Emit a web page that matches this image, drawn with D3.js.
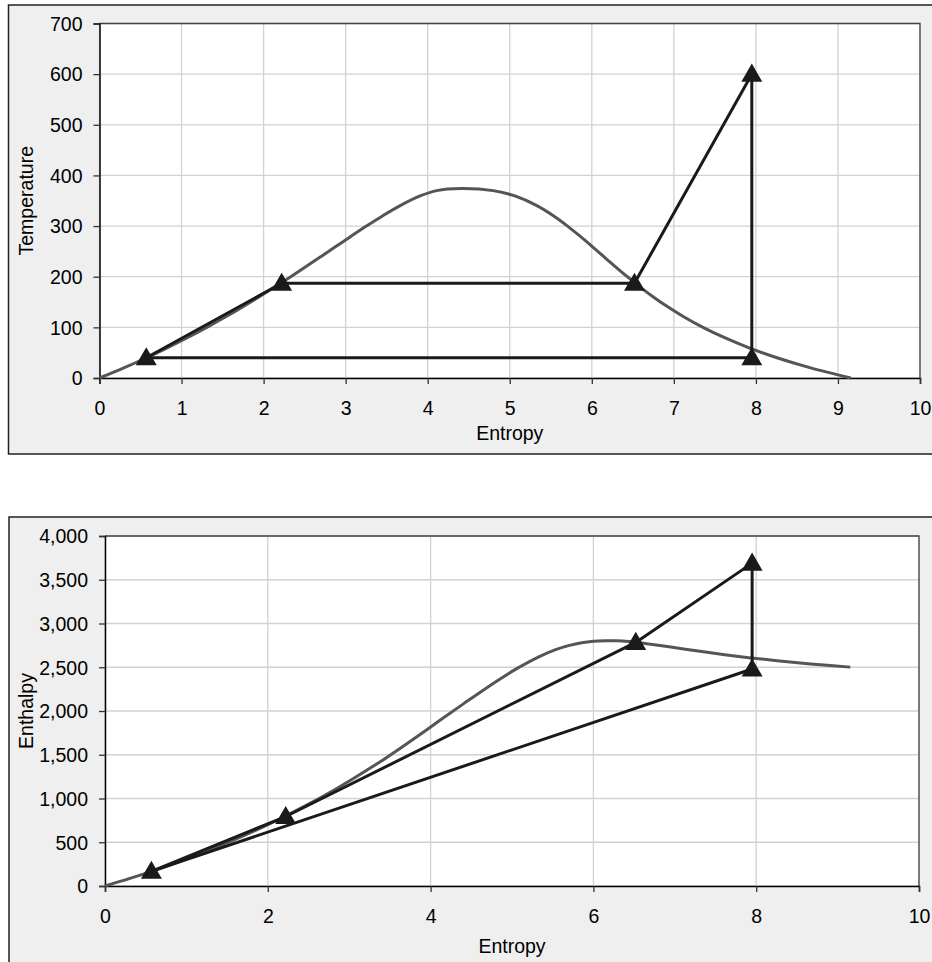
<!DOCTYPE html>
<html>
<head>
<meta charset="utf-8">
<script src="https://cdn.jsdelivr.net/npm/d3@7"></script>
<style>
  html, body { margin: 0; padding: 0; background: #ffffff; }
  svg { display: block; }
  text { font-family: "Liberation Sans", Arial, sans-serif; fill: #000; }
</style>
</head>
<body>
<svg id="chart" width="932" height="962"></svg>
<script>
// ---- Data ----
// Saturation dome (water): entropy, temperature, enthalpy
const domeS = [0, 0.2966, 0.5725, 0.8312, 1.0753, 1.3069, 1.5276, 1.7391, 1.9427, 2.1396, 2.3309, 2.5178, 2.7015, 2.8838, 3.0668, 3.2534, 3.4480, 3.6594, 3.9147, 4.1106, 4.407,
               4.7971, 5.0526, 5.3357, 5.5362, 5.7045, 5.8571, 6.0019, 6.1437, 6.2861, 6.4323, 6.5857, 6.7502, 6.9299, 7.1296, 7.3549, 7.6122, 7.9096, 8.2570, 8.6672, 9.1562];
const domeT = [0, 20, 40, 60, 80, 100, 120, 140, 160, 180, 200, 220, 240, 260, 280, 300, 320, 340, 360, 370, 374,
               370, 360, 340, 320, 300, 280, 260, 240, 220, 200, 180, 160, 140, 120, 100, 80, 60, 40, 20, 0];
const domeH = [0, 83.9, 167.5, 251.2, 335.0, 419.2, 503.8, 589.2, 675.5, 763.1, 852.3, 943.6, 1037.6, 1135.0, 1236.8, 1344.8, 1461.3, 1594.5, 1760.5, 1890.7, 2084.3,
               2332.0, 2481.0, 2621.9, 2700.6, 2749.6, 2780.4, 2796.9, 2803.0, 2801.6, 2793.2, 2778.2, 2758.1, 2733.9, 2706.3, 2676.1, 2643.7, 2609.6, 2574.3, 2538.1, 2501.4];

// Cycle states (last repeats first to close the loop)
const cycleS = [0.57, 2.22, 6.52, 7.95, 7.95, 0.57];
const cycleT = [40, 187, 187, 600, 40, 40];
const cycleH = [168, 794, 2784, 3690, 2480, 168];

// Axis ticks
const tsXTicks = [0, 1, 2, 3, 4, 5, 6, 7, 8, 9, 10];
const tsYTicks = [0, 100, 200, 300, 400, 500, 600, 700];
const hsXTicks = [0, 2, 4, 6, 8, 10];
const hsYTicks = [0, 500, 1000, 1500, 2000, 2500, 3000, 3500, 4000];

const xLabel = "Entropy";
const tsYLabel = "Temperature";
const hsYLabel = "Enthalpy";

// ---- Drawing ----
const svg = d3.select("#chart");
const FONT = 19.5;

function drawChart(cfg) {
  const g = svg.append("g");
  // outer box
  g.append("rect")
    .attr("x", cfg.box[0]).attr("y", cfg.box[1])
    .attr("width", cfg.box[2]).attr("height", cfg.box[3])
    .attr("fill", "#efefef").attr("stroke", "#222").attr("stroke-width", 1.5);

  const x = d3.scaleLinear().domain([0, 10]).range([cfg.plot.left, cfg.plot.right]);
  const y = d3.scaleLinear().domain([0, cfg.yMax]).range([cfg.plot.bottom, cfg.plot.top]);

  // plot area
  g.append("rect")
    .attr("x", cfg.plot.left).attr("y", cfg.plot.top)
    .attr("width", cfg.plot.right - cfg.plot.left)
    .attr("height", cfg.plot.bottom - cfg.plot.top)
    .attr("fill", "#ffffff");

  // gridlines
  g.append("g").selectAll("line").data(cfg.xTicks).join("line")
    .attr("x1", d => x(d)).attr("x2", d => x(d))
    .attr("y1", cfg.plot.top).attr("y2", cfg.plot.bottom)
    .attr("stroke", "#d2d2d2").attr("stroke-width", 1.3);
  g.append("g").selectAll("line").data(cfg.yTicks).join("line")
    .attr("x1", cfg.plot.left).attr("x2", cfg.plot.right)
    .attr("y1", d => y(d)).attr("y2", d => y(d))
    .attr("stroke", "#d2d2d2").attr("stroke-width", 1.3);

  // plot border (top/right)
  g.append("path")
    .attr("d", `M${cfg.plot.left},${cfg.plot.top}H${cfg.plot.right}V${cfg.plot.bottom}`)
    .attr("fill", "none").attr("stroke", "#444").attr("stroke-width", 1.3);

  // axes
  const xAxis = d3.axisBottom(x).tickValues(cfg.xTicks).tickSize(6).tickPadding(17)
    .tickFormat(d3.format("d"));
  const yAxis = d3.axisLeft(y).tickValues(cfg.yTicks).tickSize(6).tickPadding(11)
    .tickFormat(d3.format(","));
  const gx = g.append("g").attr("transform", `translate(0,${cfg.plot.bottom})`).call(xAxis);
  const gy = g.append("g").attr("transform", `translate(${cfg.plot.left},0)`).call(yAxis);
  [gx, gy].forEach(a => {
    a.select(".domain").attr("stroke", "#000").attr("stroke-width", 1.5);
    a.selectAll(".tick line").attr("stroke", "#333").attr("stroke-width", 1.3);
    a.selectAll(".tick text").attr("font-size", FONT)
      .attr("font-family", "Liberation Sans, Arial, sans-serif").attr("fill", "#000");
  });
  gy.selectAll(".tick text").attr("dy", "0.35em");

  // axis titles
  g.append("text")
    .attr("x", (cfg.plot.left + cfg.plot.right) / 2).attr("y", cfg.xTitleY)
    .attr("text-anchor", "middle").attr("font-size", FONT).text(xLabel);
  g.append("text")
    .attr("transform", `translate(${cfg.yTitleX},${(cfg.plot.top + cfg.plot.bottom) / 2}) rotate(-90)`)
    .attr("text-anchor", "middle").attr("dy", "0.35em").attr("font-size", FONT).text(cfg.yLabel);

  // dome
  const domePts = domeS.map((s, i) => [s, cfg.domeY[i]]);
  const line = d3.line().x(d => x(d[0])).y(d => y(d[1]));
  g.append("path")
    .attr("d", line.curve(d3.curveCatmullRom.alpha(0.5))(domePts))
    .attr("fill", "none").attr("stroke", "#555555").attr("stroke-width", 3);

  // cycle
  const cyc = cycleS.map((s, i) => [s, cfg.cycleY[i]]);
  g.append("path")
    .attr("d", d3.line().x(d => x(d[0])).y(d => y(d[1]))(cyc))
    .attr("fill", "none").attr("stroke", "#1a1a1a").attr("stroke-width", 3)
    .attr("stroke-linejoin", "round");

  // markers
  const tri = d3.symbol().type(d3.symbolTriangle).size(190);
  g.append("g").selectAll("path").data(cyc.slice(0, 5)).join("path")
    .attr("transform", d => `translate(${x(d[0])},${y(d[1]) + 1.5})`)
    .attr("d", tri())
    .attr("fill", "#1a1a1a");
}

drawChart({
  box: [8.5, 5, 925, 449],
  plot: { left: 99.5, right: 920, top: 23.5, bottom: 378 },
  yMax: 700,
  xTicks: tsXTicks, yTicks: tsYTicks,
  domeY: domeT, cycleY: cycleT,
  yLabel: tsYLabel,
  xTitleY: 440, yTitleX: 26
});

drawChart({
  box: [9, 517, 925, 460],
  plot: { left: 105, right: 919, top: 536, bottom: 886 },
  yMax: 4000,
  xTicks: hsXTicks, yTicks: hsYTicks,
  domeY: domeH, cycleY: cycleH,
  yLabel: hsYLabel,
  xTitleY: 953, yTitleX: 26
});
</script>
</body>
</html>
